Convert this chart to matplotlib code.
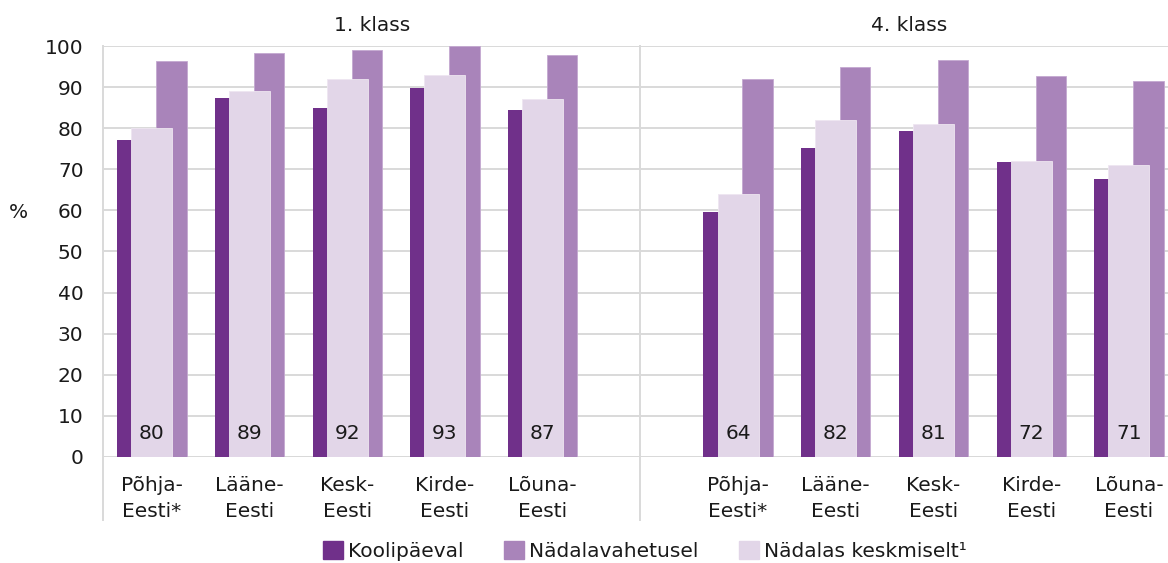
import matplotlib
matplotlib.use("Agg")
import matplotlib.pyplot as plt
from matplotlib.patches import Patch

plt.rcParams["font.family"] = ["DejaVu Sans"]

DARK, MID, LIGHT = "#70308a", "#a984ba", "#e2d6e8"
GRID = "#d9d9d9"
TEXT = "#1a1a1a"
FS = 14.5

regions = ["Põhja-\nEesti*", "Lääne-\nEesti", "Kesk-\nEesti", "Kirde-\nEesti", "Lõuna-\nEesti"]
grades = ["1. klass", "4. klass"]
series = ["Koolipäeval", "Nädalavahetusel", "Nädalas keskmiselt¹"]

# 1. klass
school_1 = [77.1, 87.3, 84.8, 89.8, 84.4]
weekend_1 = [96.3, 98.2, 99.1, 100.0, 97.8]
week_1 = [80, 89, 92, 93, 87]
# 4. klass
school_4 = [59.6, 75.3, 79.3, 71.7, 67.7]
weekend_4 = [91.9, 94.8, 96.7, 92.7, 91.5]
week_4 = [64, 82, 81, 72, 71]

fig = plt.figure(figsize=(11.68, 5.63), dpi=100)
ax = fig.add_axes([103 / 1168, 106 / 563, 1065 / 1168, 411 / 563])

# 11 category slots: five regions, an empty slot holding the divider, five regions
slots = [[i + 0.5 for i in range(5)], [i + 6.5 for i in range(5)]]
data = [(school_1, weekend_1, week_1), (school_4, weekend_4, week_4)]
narrow, wide, off = 0.31, 0.42, 0.2

for xs, (school, weekend, week) in zip(slots, data):
    ax.bar([x - off for x in xs], school, narrow, color=DARK, zorder=2)
    ax.bar([x + off for x in xs], weekend, narrow, color=MID,
           edgecolor="#c4a9d1", linewidth=0.6, zorder=2)
    ax.bar(xs, week, wide, color=LIGHT, edgecolor="#eee6f1", linewidth=0.6, zorder=3)
    for x, v in zip(xs, week):
        ax.text(x, 5.8, f"{v:.0f}", ha="center", va="center", fontsize=FS,
                color=TEXT, zorder=4)

ax.set_xlim(0, 10.9)
ax.set_ylim(0, 100)
ax.set_yticks(range(0, 101, 10))
ax.grid(axis="y", color=GRID, linewidth=1.4, zorder=0)
ax.set_axisbelow(True)
for s in ax.spines.values():
    s.set_visible(False)
ax.tick_params(axis="y", length=0, pad=14, labelsize=FS, labelcolor=TEXT)
ax.tick_params(axis="x", length=0, pad=14, labelsize=FS, labelcolor=TEXT)
ax.set_xticks(slots[0] + slots[1])
ax.set_xticklabels(regions + regions, linespacing=1.45)
ax.axhline(0, color=GRID, linewidth=1.4, zorder=1)

# group dividers reaching down through the category labels
for x in (0, 5.5):
    ax.plot([x, x], [-15.3, 100], color=GRID, linewidth=1.4, clip_on=False, zorder=1)

for x, g in zip((2.75, 8.25), grades):
    ax.text(x, 105, g, ha="center", va="center", fontsize=FS, color=TEXT)

fig.text(18 / 1168, 1 - 213 / 563, "%", ha="center", va="center", fontsize=FS, color=TEXT)

handles = [Patch(color=c) for c in (DARK, MID, LIGHT)]
fig.legend(handles, series, loc="center", bbox_to_anchor=(0.552, 0.022), ncol=3,
           frameon=False, fontsize=FS, handlelength=1.0, handleheight=1.0,
           handletextpad=0.25, columnspacing=2.0, labelcolor=TEXT,
           borderpad=0.1)

fig.savefig("out.png", dpi=100)
